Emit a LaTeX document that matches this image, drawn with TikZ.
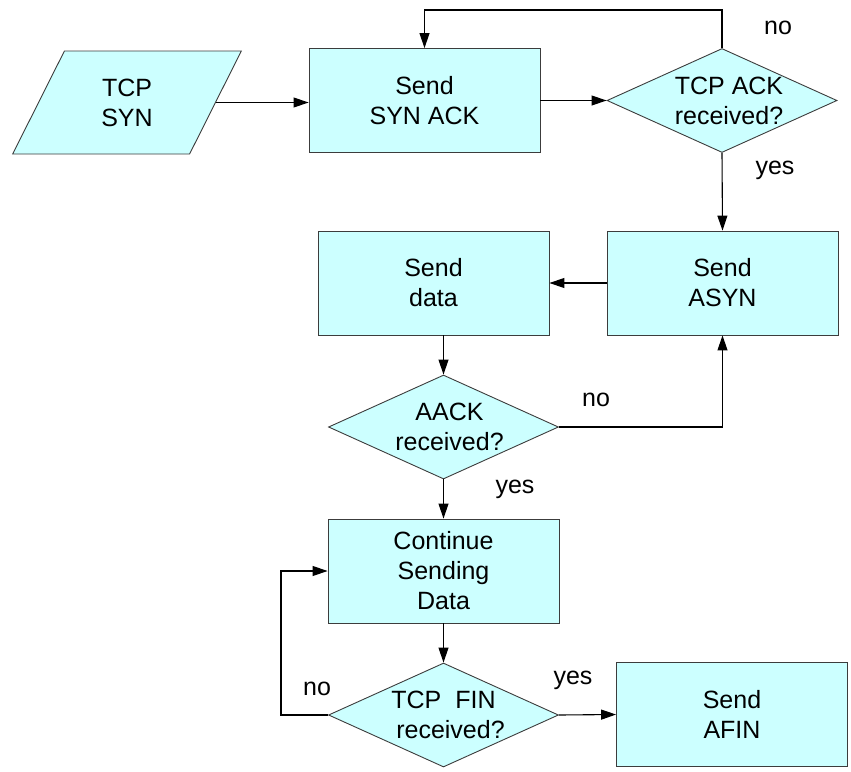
\documentclass[tikz,border=0pt]{standalone}
\usepackage{fontspec}
\setmainfont{Liberation Sans}
\usetikzlibrary{shapes.geometric, arrows.meta, calc}

\definecolor{boxcyan}{RGB}{204,255,255}
\definecolor{boxline}{RGB}{60,60,60}

\tikzset{
  procbox/.style={draw=boxline, fill=boxcyan, line width=0.9pt, minimum width=231pt, minimum height=104pt,
    align=center, font=\fontsize{25}{30}\selectfont, inner sep=0pt},
  decision/.style={diamond, draw=boxline, fill=boxcyan, line width=0.9pt, minimum width=230pt, minimum height=104pt,
    aspect=2.2, align=center, font=\fontsize{25}{30}\selectfont, inner sep=0pt},
  iobox/.style={trapezium, trapezium left angle=66, trapezium right angle=114, trapezium stretches=true,
    draw=boxline, fill=boxcyan, line width=0.9pt, minimum width=230pt, minimum height=103pt,
    align=center, font=\fontsize{25}{30}\selectfont, inner sep=0pt},
  flowline/.style={line width=1.1pt, -{Triangle[length=15pt,width=10pt]}},
  lbl/.style={font=\fontsize{25}{30}\selectfont, inner sep=0pt}
}

\begin{document}
\begin{tikzpicture}[x=1pt, y=-1pt]
	\useasboundingbox (0,0) rectangle (851,771);

	% Handshake
	\node[iobox] (syn) at (127,102.5) {TCP\\SYN};
	\node[procbox] (synack) at (424.5,100.5) {Send\\SYN ACK};
	\node[decision] (ack) at (722,100.5) {\hspace*{14pt}TCP ACK\\\hspace*{14pt}received?};
	\coordinate (acktop) at (722,10);

	% Data
	\node[procbox] (asyn) at (722.5,283) {Send\\ASYN};
	\node[procbox] (data) at (433.5,283) {Send\\data};
	\node[decision] (aack) at (443.5,427) {\hspace*{12pt}AACK\\\hspace*{12pt}received?};

	% Finish
	\node[procbox] (cont) at (443.5,571) {Continue\\Sending\\Data};
	\node[decision] (fin) at (443.5,715) {TCP~~FIN\\\hspace*{14pt}received?};
	\coordinate (finleft) at (281,715);
	\node[procbox] (afin) at (732,714.5) {Send\\AFIN};

	% Connectors
	\draw[flowline] (syn.east) -- (syn.east -| synack.west);
	\draw[flowline] (synack.east) -- (ack.west);
	\draw[flowline] (ack.north) -- (acktop) -| (synack.north);
	\draw[flowline] (ack.south) -- (asyn.north);
	\draw[flowline] (asyn.west) -- (data.east);
	\draw[flowline] (data.south -| aack.north) -- (aack.north);
	\draw[flowline] (aack.east) -| (asyn.south);
	\draw[flowline] (aack.south) -- (cont.north);
	\draw[flowline] (cont.south) -- (fin.north);
	\draw[flowline] (fin.west) -- (finleft) |- (cont.west);
	\draw[flowline] (fin.east) -- (afin.west);

	% Labels
	\node[lbl] (noack) at (778,28) {no};
	\node[lbl] (yesack) at (775,170) {yes};
	\node[lbl] (noaack) at (596,400) {no};
	\node[lbl] (yesaack) at (515,489) {yes};
	\node[lbl] (nofin) at (317,689) {no};
	\node[lbl] (yesfin) at (573,680) {yes};
\end{tikzpicture}
\end{document}
